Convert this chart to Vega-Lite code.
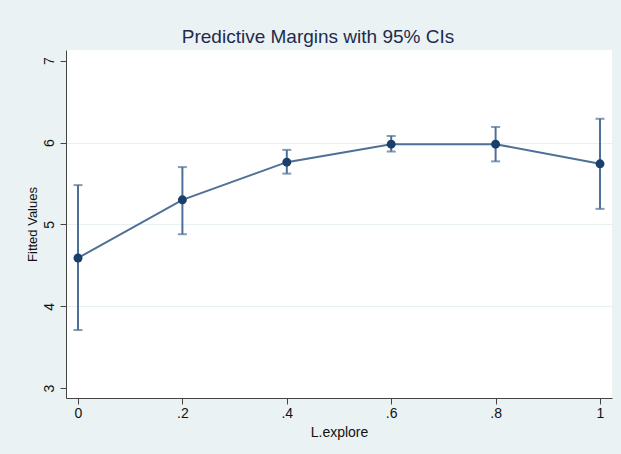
{
  "$schema": "https://vega.github.io/schema/vega-lite/v6.json",
  "autosize": {"type": "none"},
  "padding": {"left": 66, "top": 50, "right": 9, "bottom": 56},
  "width": 546,
  "height": 348,
  "background": "#eaf2f4",
  "title": {
    "text": "Predictive Margins with 95% CIs",
    "font": "Liberation Sans",
    "fontSize": 19,
    "fontWeight": "normal",
    "color": "#1e2b4d",
    "anchor": "middle",
    "dx": -21,
    "offset": 3
  },
  "config": {
    "view": {"fill": "white", "stroke": null},
    "axis": {
      "labelFont": "Liberation Sans",
      "titleFont": "Liberation Sans",
      "labelFontSize": 14,
      "titleFontSize": 14,
      "titleFontWeight": "normal",
      "labelColor": "#111",
      "titleColor": "#111",
      "domainColor": "#444",
      "tickColor": "#444",
      "gridColor": "#e6eef0",
      "gridWidth": 1
    }
  },
  "data": {
    "values": [
      {"x": 0, "y": 4.59, "lo": 3.71, "hi": 5.48},
      {"x": 0.2, "y": 5.30, "lo": 4.88, "hi": 5.70},
      {"x": 0.4, "y": 5.76, "lo": 5.62, "hi": 5.91},
      {"x": 0.6, "y": 5.98, "lo": 5.89, "hi": 6.08},
      {"x": 0.8, "y": 5.98, "lo": 5.77, "hi": 6.19},
      {"x": 1, "y": 5.74, "lo": 5.19, "hi": 6.29}
    ]
  },
  "encoding": {
    "x": {
      "field": "x",
      "type": "quantitative",
      "scale": {"domain": [-0.023, 1.023], "nice": false, "zero": false},
      "axis": {
        "title": "L.explore",
        "values": [0, 0.2, 0.4, 0.6, 0.8, 1],
        "labelExpr": "replace(format(datum.value, '~g'), /^0\\./, '.')",
        "grid": false,
        "tickSize": 6,
        "labelPadding": 2,
        "titlePadding": 5
      }
    }
  },
  "layer": [
    {
      "mark": {"type": "rule", "color": "#4f7096", "strokeWidth": 2},
      "encoding": {
        "y": {
          "field": "lo",
          "type": "quantitative",
          "scale": {"domain": [2.88, 7.13], "nice": false, "zero": false},
          "axis": {
            "title": "Fitted Values",
            "values": [3, 4, 5, 6, 7],
            "format": "d",
            "labelAngle": -90,
            "labelAlign": "center",
            "labelBaseline": "bottom",
            "labelPadding": 4,
            "tickSize": 6,
            "titleFontSize": 13,
            "titlePadding": 3,
            "grid": true,
            "gridColor": {"condition": {"test": "datum.value == 3 || datum.value == 7", "value": "transparent"}, "value": "#e9f0f2"}
          }
        },
        "y2": {"field": "hi"}
      }
    },
    {
      "mark": {"type": "tick", "color": "#4f7096", "thickness": 2, "size": 9, "orient": "horizontal"},
      "encoding": {"y": {"field": "lo", "type": "quantitative"}}
    },
    {
      "mark": {"type": "tick", "color": "#4f7096", "thickness": 2, "size": 9, "orient": "horizontal"},
      "encoding": {"y": {"field": "hi", "type": "quantitative"}}
    },
    {
      "mark": {"type": "line", "color": "#4f7096", "strokeWidth": 2},
      "encoding": {"y": {"field": "y", "type": "quantitative"}}
    },
    {
      "mark": {"type": "point", "filled": true, "color": "#1b3f6b", "size": 80, "opacity": 1},
      "encoding": {"y": {"field": "y", "type": "quantitative"}}
    }
  ]
}
